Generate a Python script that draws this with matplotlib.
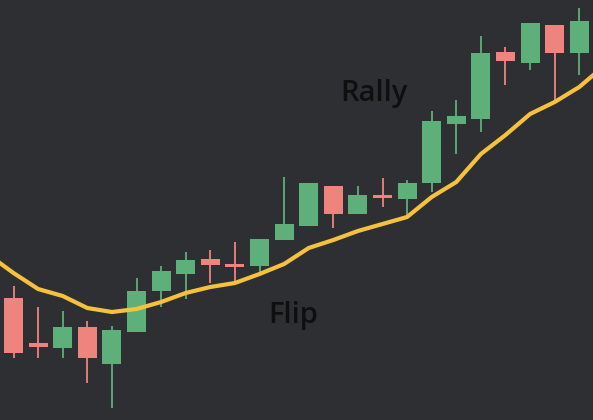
import matplotlib
matplotlib.use("Agg")
import matplotlib.pyplot as plt
import numpy as np

# Candle data (open, high, low, close) in price units
opens  = [122, 77, 72, 93, 56, 88, 129, 146, 161, 156, 154, 180, 194, 234, 206, 225, 221, 237, 296, 301, 368, 357, 395, 367]
highs  = [134, 113, 109, 99, 94, 142, 154, 168, 170, 178, 181, 243, 237, 234, 234, 242, 240, 309, 320, 384, 373, 397, 395, 412]
lows   = [62, 62, 62, 37, 12, 88, 113, 121, 137, 138, 145, 180, 194, 192, 206, 213, 203, 228, 266, 288, 335, 350, 318, 345]
closes = [67, 73, 93, 62, 90, 129, 149, 160, 155, 153, 181, 196, 237, 206, 225, 222, 237, 299, 304, 367, 359, 397, 367, 399]

# Moving average (index -1 .. 24)
ma_index = list(range(-1, 25))
ma_values = [165, 147, 131, 124, 112, 108, 111, 118, 127, 133, 137, 146, 156, 172, 180, 189,
             196, 203, 223, 238, 266, 285, 306, 318, 333, 354]

labels = ["Rally", "Flip"]
label_pos = [(14.65, 327), (11.35, 105)]

BG = "#2e2f33"
GREEN = "#5eb07b"
RED = "#ef837d"
YELLOW = "#f6c13c"

fig = plt.figure(figsize=(5.93, 4.2), dpi=100)
fig.patch.set_facecolor(BG)
ax = fig.add_axes([0, 0, 1, 1])
ax.set_facecolor(BG)

w = 0.77
for i, (o, h, l, c) in enumerate(zip(opens, highs, lows, closes)):
    col = GREEN if c >= o else RED
    ax.vlines(i, l, h, color=col, linewidth=1.3, zorder=2)
    ax.bar(i, abs(c - o), bottom=min(o, c), width=w, color=col, linewidth=0, zorder=3)

ax.plot(ma_index, ma_values, color=YELLOW, linewidth=3, zorder=4, solid_joinstyle="round")

for t, (x, y) in zip(labels, label_pos):
    ax.text(x, y, t, fontsize=21, color="#0f0f0f", ha="center", va="center",
            family=["Open Sans", "DejaVu Sans"], fontweight="semibold", zorder=5)

ax.set_xlim(-0.549, 23.557)
ax.set_ylim(0, 420)
ax.axis("off")
fig.savefig("out.png", dpi=100, facecolor=BG)
